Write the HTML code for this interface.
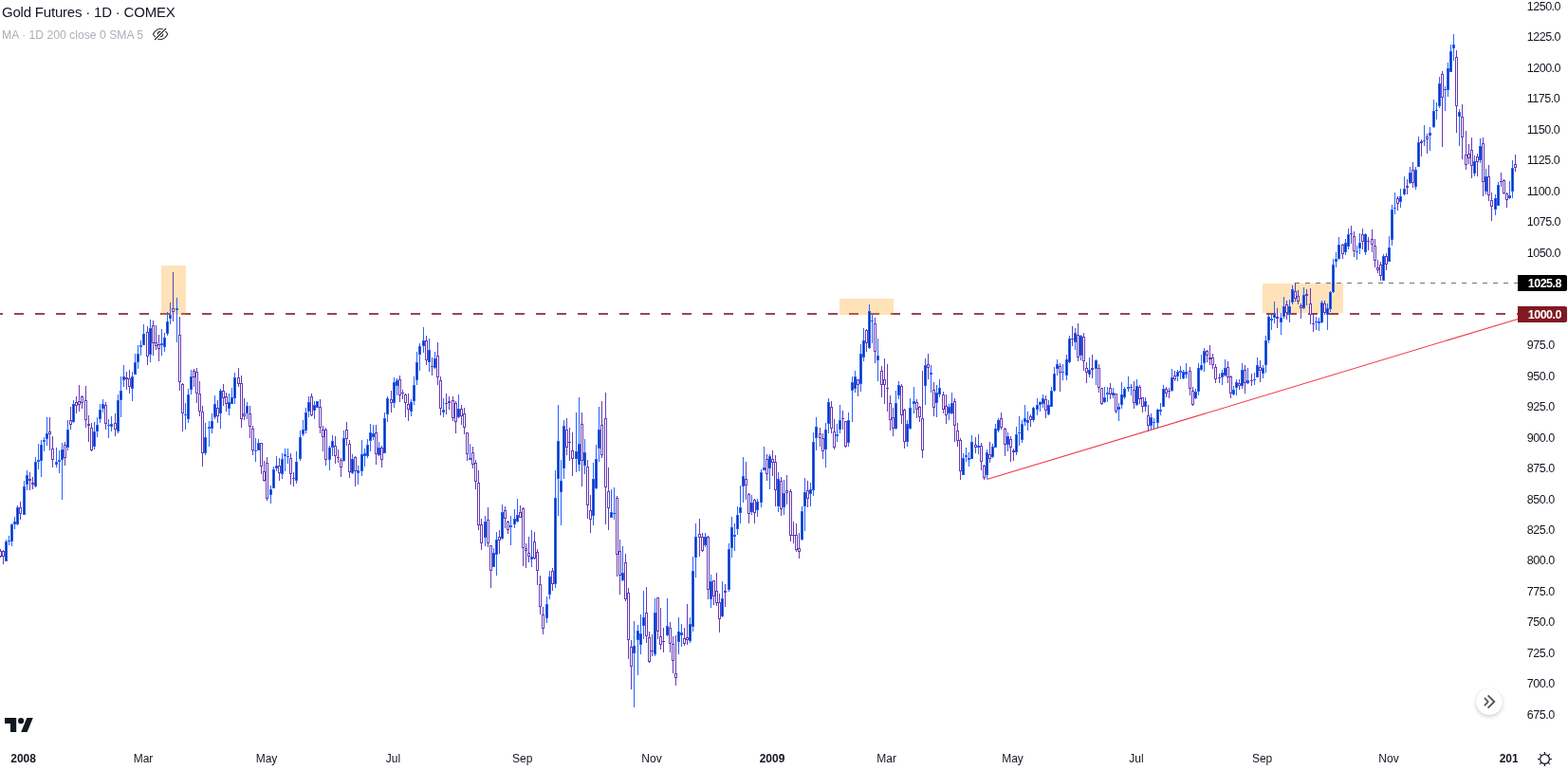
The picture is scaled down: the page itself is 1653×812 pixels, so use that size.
<!DOCTYPE html>
<html lang="en"><head><meta charset="utf-8"><title>Gold Futures · 1D · COMEX</title>
<style>
html,body{margin:0;padding:0;background:#fff;}
body{width:1653px;height:812px;overflow:hidden;position:relative;font-family:"Liberation Sans",sans-serif;color:#131722;}
svg{position:absolute;left:0;top:0;display:block;}
.t{position:absolute;white-space:pre;line-height:1;}
.title{left:2px;top:5px;font-size:15px;letter-spacing:-0.2px;color:#131722;}
.sub{left:2px;top:31px;font-size:12.2px;color:#adb0ba;}
.pl{left:1609.8px;font-size:12.5px;letter-spacing:-0.5px;color:#131722;}
.tl{top:794px;font-size:12px;color:#131722;transform:translateX(-50%);}
.yr{font-weight:700;}
.tag{position:absolute;left:1600px;width:52px;height:17px;border-radius:0 2px 2px 0;color:#fff;font-weight:700;font-size:12.5px;letter-spacing:-0.5px;line-height:18.6px;text-align:right;box-sizing:border-box;padding-right:6px;overflow:hidden;}
.btn{position:absolute;left:1556px;top:726px;width:28px;height:28px;border-radius:50%;background:#fff;box-shadow:0 2px 4px rgba(0,0,0,.18),0 0 1px rgba(0,0,0,.10);}
.clip{position:absolute;left:0;top:780px;width:1600px;height:32px;overflow:hidden;}
</style></head><body>
<svg width="1653" height="812" viewBox="0 0 1653 812">
<g fill="#99474e" shape-rendering="crispEdges">
<path d="M0 330h3v2h-3zM15 330h10v2h-10zM37 330h10v2h-10zM59 330h10v2h-10zM81 330h10v2h-10zM103 330h10v2h-10zM125 330h10v2h-10zM147 330h10v2h-10zM169 330h10v2h-10zM191 330h10v2h-10zM213 330h10v2h-10zM235 330h10v2h-10zM257 330h10v2h-10zM279 330h10v2h-10zM301 330h10v2h-10zM323 330h10v2h-10zM345 330h10v2h-10zM367 330h10v2h-10zM389 330h10v2h-10zM411 330h10v2h-10zM433 330h10v2h-10zM455 330h10v2h-10zM477 330h10v2h-10zM499 330h10v2h-10zM521 330h10v2h-10zM543 330h10v2h-10zM565 330h10v2h-10zM587 330h10v2h-10zM609 330h10v2h-10zM631 330h10v2h-10zM653 330h10v2h-10zM675 330h10v2h-10zM697 330h10v2h-10zM719 330h10v2h-10zM741 330h10v2h-10zM763 330h10v2h-10zM785 330h10v2h-10zM807 330h10v2h-10zM829 330h10v2h-10zM851 330h10v2h-10zM873 330h10v2h-10zM895 330h10v2h-10zM917 330h10v2h-10zM939 330h10v2h-10zM961 330h10v2h-10zM983 330h10v2h-10zM1005 330h10v2h-10zM1027 330h10v2h-10zM1049 330h10v2h-10zM1071 330h10v2h-10zM1093 330h10v2h-10zM1115 330h10v2h-10zM1137 330h10v2h-10zM1159 330h10v2h-10zM1181 330h10v2h-10zM1203 330h10v2h-10zM1225 330h10v2h-10zM1247 330h10v2h-10zM1269 330h10v2h-10zM1291 330h10v2h-10zM1313 330h10v2h-10zM1335 330h10v2h-10zM1357 330h10v2h-10zM1379 330h10v2h-10zM1401 330h10v2h-10zM1423 330h10v2h-10zM1445 330h10v2h-10zM1467 330h10v2h-10zM1489 330h10v2h-10zM1511 330h10v2h-10zM1533 330h10v2h-10zM1555 330h10v2h-10zM1577 330h10v2h-10zM1599 330h1v2h-1z"/></g>
<g fill="rgba(255,152,0,0.28)" shape-rendering="crispEdges">
<rect x="170" y="280" width="26" height="52"/><rect x="885" y="315" width="57" height="17"/><rect x="1331" y="299" width="85" height="31"/></g>
<path fill="#737373" shape-rendering="crispEdges" d="M1365 298h5v1h-5zM1376 298h5v1h-5zM1387 298h5v1h-5zM1398 298h5v1h-5zM1409 298h5v1h-5zM1420 298h5v1h-5zM1431 298h5v1h-5zM1442 298h5v1h-5zM1453 298h5v1h-5zM1464 298h5v1h-5zM1475 298h5v1h-5zM1486 298h5v1h-5zM1497 298h5v1h-5zM1508 298h5v1h-5zM1519 298h5v1h-5zM1530 298h5v1h-5zM1541 298h5v1h-5zM1552 298h5v1h-5zM1563 298h5v1h-5zM1574 298h5v1h-5zM1585 298h5v1h-5zM1596 298h4v1h-4z"/>
<line x1="1040.5" y1="505.55" x2="1600" y2="336.45" stroke="#f23645" stroke-width="1.05"/>
<g shape-rendering="crispEdges">
<path fill="#2962ff" d="M6 569h1v23h-1zM9 565h1v10h-1zM12 552h1v24h-1zM15 545h1v13h-1zM18 533h1v21h-1zM25 507h1v36h-1zM28 496h1v21h-1zM37 482h1v32h-1zM40 468h1v27h-1zM43 464h1v39h-1zM46 461h1v15h-1zM49 440h1v30h-1zM59 472h1v21h-1zM62 475h1v24h-1zM65 467h1v60h-1zM71 443h1v32h-1zM77 422h1v24h-1zM99 445h1v29h-1zM102 440h1v21h-1zM105 426h1v20h-1zM108 421h1v14h-1zM114 442h1v20h-1zM117 439h1v16h-1zM124 416h1v41h-1zM127 397h1v43h-1zM130 385h1v23h-1zM139 392h1v31h-1zM142 373h1v22h-1zM145 364h1v25h-1zM148 359h1v16h-1zM151 342h1v22h-1zM158 337h1v45h-1zM170 347h1v28h-1zM173 351h1v20h-1zM176 329h1v25h-1zM179 319h1v23h-1zM186 314h1v47h-1zM195 425h1v28h-1zM198 410h1v36h-1zM201 390h1v26h-1zM216 446h1v34h-1zM220 444h1v27h-1zM223 436h1v21h-1zM226 417h1v25h-1zM232 410h1v42h-1zM241 415h1v23h-1zM244 409h1v17h-1zM247 393h1v33h-1zM260 424h1v18h-1zM269 462h1v25h-1zM272 463h1v12h-1zM285 512h1v19h-1zM288 492h1v23h-1zM291 481h1v16h-1zM297 478h1v27h-1zM300 473h1v24h-1zM303 473h1v16h-1zM312 476h1v34h-1zM316 454h1v32h-1zM319 443h1v17h-1zM322 430h1v27h-1zM325 418h1v22h-1zM331 423h1v19h-1zM334 423h1v7h-1zM347 470h1v26h-1zM350 459h1v22h-1zM362 454h1v33h-1zM371 479h1v21h-1zM377 491h1v20h-1zM381 464h1v38h-1zM384 473h1v19h-1zM387 463h1v20h-1zM390 447h1v29h-1zM393 448h1v16h-1zM399 466h1v15h-1zM405 435h1v43h-1zM408 418h1v27h-1zM415 398h1v32h-1zM418 399h1v18h-1zM433 421h1v18h-1zM436 397h1v30h-1zM439 371h1v35h-1zM442 362h1v29h-1zM446 345h1v27h-1zM452 357h1v35h-1zM458 371h1v18h-1zM467 420h1v20h-1zM483 416h1v25h-1zM495 468h1v17h-1zM511 544h1v32h-1zM520 578h1v20h-1zM523 561h1v46h-1zM529 532h1v37h-1zM538 544h1v31h-1zM542 537h1v20h-1zM545 526h1v25h-1zM560 559h1v39h-1zM576 629h1v28h-1zM579 602h1v30h-1zM585 496h1v124h-1zM588 427h1v117h-1zM591 485h1v69h-1zM594 443h1v62h-1zM607 435h1v63h-1zM610 419h1v78h-1zM616 463h1v37h-1zM625 488h1v66h-1zM628 469h1v47h-1zM631 429h1v58h-1zM644 516h1v30h-1zM647 514h1v34h-1zM656 576h1v37h-1zM668 655h1v91h-1zM672 659h1v53h-1zM675 648h1v42h-1zM678 623h1v51h-1zM690 631h1v61h-1zM703 631h1v40h-1zM715 651h1v39h-1zM718 658h1v24h-1zM727 651h1v27h-1zM730 587h1v79h-1zM733 552h1v57h-1zM743 562h1v15h-1zM749 606h1v35h-1zM761 613h1v38h-1zM768 573h1v51h-1zM771 545h1v43h-1zM774 552h1v29h-1zM777 534h1v30h-1zM780 512h1v40h-1zM783 482h1v48h-1zM792 522h1v21h-1zM798 526h1v19h-1zM802 495h1v40h-1zM805 471h1v25h-1zM811 479h1v37h-1zM820 498h1v42h-1zM826 506h1v37h-1zM845 534h1v36h-1zM848 504h1v56h-1zM854 509h1v25h-1zM857 456h1v67h-1zM860 440h1v35h-1zM870 446h1v47h-1zM873 420h1v37h-1zM882 447h1v19h-1zM885 427h1v30h-1zM894 435h1v36h-1zM898 397h1v48h-1zM901 391h1v23h-1zM907 363h1v50h-1zM910 346h1v35h-1zM916 321h1v47h-1zM919 332h1v30h-1zM925 357h1v45h-1zM944 412h1v41h-1zM947 402h1v19h-1zM956 443h1v28h-1zM959 420h1v33h-1zM963 408h1v28h-1zM975 378h1v49h-1zM981 385h1v29h-1zM987 406h1v34h-1zM990 400h1v19h-1zM1000 426h1v17h-1zM1003 414h1v23h-1zM1015 478h1v23h-1zM1018 472h1v15h-1zM1021 477h1v15h-1zM1024 459h1v25h-1zM1031 458h1v21h-1zM1040 474h1v31h-1zM1046 468h1v15h-1zM1049 447h1v25h-1zM1052 441h1v15h-1zM1062 456h1v20h-1zM1071 450h1v30h-1zM1074 439h1v31h-1zM1077 443h1v24h-1zM1080 427h1v22h-1zM1083 434h1v20h-1zM1089 429h1v16h-1zM1093 420h1v18h-1zM1096 423h1v11h-1zM1099 416h1v14h-1zM1105 422h1v16h-1zM1108 408h1v21h-1zM1111 387h1v26h-1zM1114 379h1v17h-1zM1120 384h1v17h-1zM1124 374h1v27h-1zM1127 354h1v29h-1zM1133 346h1v23h-1zM1139 353h1v27h-1zM1148 377h1v21h-1zM1155 379h1v27h-1zM1164 408h1v17h-1zM1167 408h1v16h-1zM1173 409h1v11h-1zM1179 425h1v19h-1zM1182 403h1v28h-1zM1185 408h1v13h-1zM1189 397h1v16h-1zM1192 405h1v12h-1zM1198 400h1v28h-1zM1207 419h1v15h-1zM1213 436h1v17h-1zM1216 441h1v11h-1zM1220 431h1v20h-1zM1223 425h1v13h-1zM1226 406h1v23h-1zM1235 389h1v24h-1zM1241 390h1v12h-1zM1244 386h1v14h-1zM1247 390h1v10h-1zM1250 383h1v16h-1zM1260 410h1v11h-1zM1263 383h1v34h-1zM1266 374h1v17h-1zM1269 367h1v25h-1zM1288 390h1v16h-1zM1291 379h1v18h-1zM1300 407h1v10h-1zM1303 400h1v17h-1zM1309 383h1v27h-1zM1315 388h1v17h-1zM1322 393h1v13h-1zM1325 377h1v21h-1zM1331 385h1v14h-1zM1334 354h1v39h-1zM1337 332h1v30h-1zM1340 332h1v16h-1zM1343 318h1v23h-1zM1350 330h1v23h-1zM1353 313h1v23h-1zM1359 316h1v24h-1zM1362 301h1v20h-1zM1374 303h1v23h-1zM1387 334h1v14h-1zM1390 335h1v14h-1zM1393 317h1v24h-1zM1399 320h1v28h-1zM1402 307h1v22h-1zM1405 273h1v36h-1zM1408 266h1v16h-1zM1411 250h1v24h-1zM1418 252h1v17h-1zM1421 241h1v22h-1zM1430 259h1v15h-1zM1433 246h1v22h-1zM1439 246h1v23h-1zM1458 268h1v28h-1zM1464 249h1v27h-1zM1467 216h1v43h-1zM1470 203h1v23h-1zM1476 199h1v20h-1zM1480 186h1v20h-1zM1486 176h1v18h-1zM1492 176h1v24h-1zM1495 144h1v32h-1zM1501 132h1v22h-1zM1507 134h1v25h-1zM1511 105h1v30h-1zM1514 108h1v18h-1zM1517 81h1v33h-1zM1523 91h1v26h-1zM1526 66h1v36h-1zM1529 47h1v29h-1zM1532 36h1v28h-1zM1538 115h1v39h-1zM1554 164h1v22h-1zM1560 146h1v26h-1zM1566 178h1v27h-1zM1576 205h1v22h-1zM1579 192h1v25h-1zM1591 191h1v19h-1zM1594 169h1v40h-1z"/>
<path fill="#673ab7" d="M0 579h1v9h-1zM3 580h1v15h-1zM21 529h1v19h-1zM31 498h1v19h-1zM34 503h1v13h-1zM52 440h1v35h-1zM55 460h1v33h-1zM68 466h1v25h-1zM74 429h1v24h-1zM80 418h1v18h-1zM83 406h1v28h-1zM86 417h1v14h-1zM90 407h1v44h-1zM93 438h1v28h-1zM96 446h1v30h-1zM111 424h1v29h-1zM121 436h1v24h-1zM133 392h1v19h-1zM136 390h1v25h-1zM155 344h1v41h-1zM161 338h1v37h-1zM164 343h1v26h-1zM167 353h1v28h-1zM182 287h1v52h-1zM189 334h1v78h-1zM192 404h1v51h-1zM204 389h1v19h-1zM207 388h1v37h-1zM210 402h1v37h-1zM213 428h1v64h-1zM229 422h1v24h-1zM235 405h1v23h-1zM238 414h1v20h-1zM251 388h1v20h-1zM254 396h1v55h-1zM257 420h1v23h-1zM263 428h1v34h-1zM266 449h1v31h-1zM275 467h1v33h-1zM278 486h1v22h-1zM281 482h1v46h-1zM294 483h1v24h-1zM306 478h1v33h-1zM309 498h1v15h-1zM328 415h1v24h-1zM337 421h1v36h-1zM340 449h1v27h-1zM343 451h1v40h-1zM353 460h1v29h-1zM356 474h1v14h-1zM359 483h1v20h-1zM365 445h1v25h-1zM368 464h1v40h-1zM374 481h1v32h-1zM396 448h1v42h-1zM402 470h1v23h-1zM412 412h1v23h-1zM421 396h1v28h-1zM424 411h1v10h-1zM427 415h1v25h-1zM430 415h1v29h-1zM449 354h1v31h-1zM455 377h1v19h-1zM461 361h1v45h-1zM464 397h1v41h-1zM470 415h1v22h-1zM473 418h1v14h-1zM477 418h1v26h-1zM480 423h1v34h-1zM486 427h1v21h-1zM489 430h1v28h-1zM492 456h1v30h-1zM498 471h1v23h-1zM501 485h1v31h-1zM504 496h1v63h-1zM507 547h1v33h-1zM514 535h1v42h-1zM517 575h1v45h-1zM526 559h1v25h-1zM532 534h1v23h-1zM535 549h1v14h-1zM548 533h1v13h-1zM551 535h1v62h-1zM554 573h1v26h-1zM557 566h1v27h-1zM563 561h1v29h-1zM566 579h1v38h-1zM569 607h1v41h-1zM572 640h1v29h-1zM582 599h1v24h-1zM597 441h1v39h-1zM600 451h1v35h-1zM603 456h1v46h-1zM613 435h1v78h-1zM619 485h1v62h-1zM622 522h1v40h-1zM634 423h1v60h-1zM638 414h1v139h-1zM641 493h1v66h-1zM650 523h1v85h-1zM653 569h1v58h-1zM659 584h1v50h-1zM662 620h1v75h-1zM665 675h1v52h-1zM681 619h1v59h-1zM684 666h1v33h-1zM687 669h1v23h-1zM693 630h1v44h-1zM696 641h1v44h-1zM699 662h1v26h-1zM706 656h1v32h-1zM709 671h1v39h-1zM712 670h1v53h-1zM721 662h1v19h-1zM724 637h1v43h-1zM737 547h1v40h-1zM740 562h1v20h-1zM746 565h1v67h-1zM752 612h1v26h-1zM755 604h1v35h-1zM758 626h1v41h-1zM764 616h1v24h-1zM786 487h1v40h-1zM789 520h1v32h-1zM795 526h1v26h-1zM808 479h1v28h-1zM814 475h1v27h-1zM817 480h1v54h-1zM823 503h1v41h-1zM829 501h1v31h-1zM833 516h1v55h-1zM836 550h1v23h-1zM839 552h1v30h-1zM842 562h1v27h-1zM851 507h1v28h-1zM864 451h1v20h-1zM867 457h1v27h-1zM876 423h1v34h-1zM879 442h1v32h-1zM888 433h1v20h-1zM891 444h1v28h-1zM904 400h1v18h-1zM913 347h1v24h-1zM922 335h1v48h-1zM929 386h1v33h-1zM932 378h1v48h-1zM935 384h1v50h-1zM938 417h1v37h-1zM941 430h1v30h-1zM950 405h1v42h-1zM953 431h1v42h-1zM966 421h1v20h-1zM969 428h1v17h-1zM972 391h1v92h-1zM978 373h1v27h-1zM984 403h1v36h-1zM994 413h1v23h-1zM997 416h1v31h-1zM1006 420h1v46h-1zM1009 446h1v25h-1zM1012 462h1v44h-1zM1028 461h1v17h-1zM1034 467h1v29h-1zM1037 490h1v16h-1zM1043 466h1v22h-1zM1055 435h1v18h-1zM1059 451h1v30h-1zM1065 460h1v27h-1zM1068 473h1v13h-1zM1086 437h1v13h-1zM1102 417h1v24h-1zM1117 383h1v30h-1zM1130 344h1v21h-1zM1136 341h1v40h-1zM1142 351h1v40h-1zM1145 382h1v22h-1zM1151 374h1v25h-1zM1158 384h1v30h-1zM1161 409h1v18h-1zM1170 404h1v17h-1zM1176 415h1v21h-1zM1195 402h1v29h-1zM1201 406h1v20h-1zM1204 419h1v16h-1zM1210 427h1v28h-1zM1229 408h1v11h-1zM1232 409h1v11h-1zM1238 391h1v11h-1zM1254 387h1v30h-1zM1257 408h1v20h-1zM1272 369h1v13h-1zM1275 364h1v21h-1zM1278 373h1v16h-1zM1281 384h1v20h-1zM1285 394h1v10h-1zM1294 381h1v23h-1zM1297 396h1v24h-1zM1306 400h1v11h-1zM1312 385h1v30h-1zM1319 394h1v13h-1zM1328 380h1v23h-1zM1346 325h1v21h-1zM1356 317h1v20h-1zM1365 298h1v20h-1zM1368 306h1v15h-1zM1371 320h1v16h-1zM1377 305h1v17h-1zM1381 304h1v38h-1zM1384 330h1v20h-1zM1396 317h1v15h-1zM1415 257h1v16h-1zM1424 238h1v19h-1zM1427 244h1v27h-1zM1436 241h1v22h-1zM1442 250h1v14h-1zM1446 242h1v24h-1zM1449 252h1v30h-1zM1452 274h1v14h-1zM1455 276h1v20h-1zM1461 267h1v18h-1zM1473 207h1v15h-1zM1483 189h1v16h-1zM1489 171h1v27h-1zM1498 147h1v18h-1zM1504 141h1v21h-1zM1520 75h1v80h-1zM1535 53h1v87h-1zM1541 110h1v58h-1zM1545 138h1v41h-1zM1548 152h1v21h-1zM1551 145h1v43h-1zM1557 162h1v24h-1zM1563 145h1v62h-1zM1569 174h1v38h-1zM1572 203h1v30h-1zM1582 182h1v15h-1zM1585 189h1v16h-1zM1588 203h1v16h-1zM1597 163h1v18h-1z"/>
<path fill="#2962ff" d="M5 571h3v21h-3zM8 570h3v1h-3zM11 553h3v18h-3zM14 550h3v3h-3zM17 535h3v18h-3zM24 513h3v30h-3zM27 501h3v10h-3zM36 487h3v26h-3zM39 485h3v2h-3zM42 469h3v17h-3zM45 464h3v2h-3zM48 457h3v6h-3zM58 487h3v3h-3zM61 485h3v2h-3zM64 474h3v11h-3zM70 453h3v19h-3zM76 426h3v19h-3zM98 455h3v16h-3zM101 448h3v7h-3zM104 432h3v10h-3zM107 426h3v5h-3zM113 448h3v1h-3zM116 447h3v3h-3zM123 422h3v33h-3zM126 412h3v10h-3zM129 397h3v4h-3zM138 397h3v13h-3zM141 382h3v13h-3zM144 373h3v9h-3zM147 364h3v2h-3zM150 352h3v12h-3zM157 346h3v28h-3zM169 362h3v2h-3zM172 356h3v10h-3zM175 339h3v13h-3zM178 332h3v4h-3zM185 325h3v2h-3zM194 437h3v1h-3zM197 416h3v26h-3zM200 397h3v14h-3zM215 461h3v17h-3zM219 450h3v2h-3zM222 444h3v8h-3zM225 426h3v14h-3zM231 412h3v24h-3zM240 424h3v7h-3zM243 419h3v7h-3zM246 398h3v22h-3zM259 428h3v8h-3zM268 475h3v1h-3zM271 467h3v8h-3zM284 516h3v6h-3zM287 495h3v20h-3zM290 491h3v3h-3zM296 484h3v16h-3zM299 479h3v2h-3zM302 481h3v1h-3zM311 487h3v20h-3zM315 461h3v23h-3zM318 453h3v5h-3zM321 435h3v19h-3zM324 424h3v10h-3zM330 427h3v6h-3zM333 423h3v7h-3zM346 472h3v13h-3zM349 465h3v7h-3zM361 462h3v24h-3zM370 484h3v15h-3zM376 496h3v3h-3zM380 479h3v18h-3zM383 478h3v3h-3zM386 469h3v12h-3zM389 456h3v9h-3zM392 457h3v4h-3zM398 472h3v8h-3zM404 441h3v37h-3zM407 420h3v17h-3zM414 403h3v22h-3zM417 401h3v6h-3zM432 424h3v10h-3zM435 406h3v17h-3zM438 382h3v19h-3zM441 365h3v9h-3zM445 359h3v6h-3zM451 369h3v13h-3zM457 378h3v10h-3zM466 432h3v3h-3zM482 431h3v9h-3zM494 483h3v2h-3zM510 550h3v17h-3zM519 583h3v15h-3zM522 569h3v16h-3zM528 540h3v28h-3zM537 554h3v2h-3zM541 547h3v6h-3zM544 543h3v7h-3zM559 587h3v3h-3zM575 637h3v15h-3zM578 608h3v19h-3zM584 525h3v91h-3zM587 465h3v40h-3zM590 507h3v12h-3zM593 449h3v45h-3zM606 476h3v8h-3zM609 468h3v22h-3zM615 477h3v14h-3zM624 505h3v39h-3zM627 484h3v31h-3zM630 453h3v20h-3zM643 540h3v6h-3zM646 541h3v1h-3zM655 604h3v8h-3zM667 681h3v8h-3zM671 665h3v10h-3zM674 668h3v12h-3zM677 651h3v9h-3zM689 646h3v44h-3zM702 660h3v10h-3zM714 666h3v11h-3zM717 667h3v3h-3zM726 658h3v18h-3zM729 602h3v59h-3zM732 566h3v22h-3zM742 566h3v9h-3zM748 613h3v19h-3zM760 631h3v19h-3zM767 579h3v43h-3zM770 556h3v22h-3zM773 564h3v2h-3zM776 543h3v15h-3zM779 535h3v6h-3zM782 502h3v11h-3zM791 530h3v10h-3zM797 529h3v9h-3zM801 498h3v32h-3zM804 493h3v3h-3zM810 481h3v13h-3zM819 505h3v29h-3zM825 520h3v15h-3zM844 539h3v30h-3zM847 519h3v15h-3zM853 516h3v5h-3zM856 466h3v51h-3zM859 450h3v12h-3zM869 453h3v21h-3zM872 424h3v23h-3zM881 458h3v2h-3zM884 443h3v10h-3zM893 443h3v24h-3zM897 403h3v9h-3zM900 397h3v13h-3zM906 373h3v32h-3zM909 359h3v18h-3zM915 328h3v39h-3zM918 338h3v1h-3zM924 375h3v5h-3zM943 425h3v27h-3zM946 406h3v11h-3zM955 447h3v19h-3zM958 430h3v22h-3zM962 423h3v3h-3zM974 385h3v22h-3zM980 393h3v2h-3zM986 414h3v11h-3zM989 409h3v7h-3zM999 429h3v7h-3zM1002 425h3v11h-3zM1014 483h3v18h-3zM1017 480h3v2h-3zM1020 483h3v2h-3zM1023 466h3v18h-3zM1030 470h3v2h-3zM1039 477h3v24h-3zM1045 471h3v11h-3zM1048 452h3v20h-3zM1051 443h3v11h-3zM1061 460h3v9h-3zM1070 458h3v19h-3zM1073 456h3v1h-3zM1076 447h3v17h-3zM1079 441h3v4h-3zM1082 443h3v3h-3zM1088 430h3v13h-3zM1092 427h3v5h-3zM1095 424h3v3h-3zM1098 420h3v6h-3zM1104 427h3v10h-3zM1107 412h3v17h-3zM1110 394h3v18h-3zM1113 384h3v5h-3zM1119 392h3v1h-3zM1123 379h3v17h-3zM1126 357h3v25h-3zM1132 351h3v10h-3zM1138 354h3v21h-3zM1147 390h3v5h-3zM1154 380h3v9h-3zM1163 419h3v5h-3zM1166 414h3v2h-3zM1172 414h3v3h-3zM1178 429h3v3h-3zM1181 416h3v11h-3zM1184 410h3v9h-3zM1188 408h3v2h-3zM1191 408h3v1h-3zM1197 407h3v20h-3zM1206 423h3v6h-3zM1212 440h3v9h-3zM1215 445h3v1h-3zM1219 432h3v14h-3zM1222 432h3v2h-3zM1225 410h3v19h-3zM1234 398h3v14h-3zM1240 392h3v5h-3zM1243 391h3v2h-3zM1246 392h3v7h-3zM1249 392h3v3h-3zM1259 413h3v7h-3zM1262 388h3v25h-3zM1265 385h3v5h-3zM1268 370h3v13h-3zM1287 393h3v5h-3zM1290 388h3v8h-3zM1299 411h3v5h-3zM1302 403h3v6h-3zM1308 390h3v17h-3zM1314 401h3v3h-3zM1321 400h3v1h-3zM1324 385h3v13h-3zM1330 388h3v6h-3zM1333 359h3v26h-3zM1336 334h3v25h-3zM1339 336h3v2h-3zM1342 331h3v4h-3zM1349 335h3v5h-3zM1352 323h3v11h-3zM1358 323h3v8h-3zM1361 305h3v14h-3zM1373 311h3v14h-3zM1386 339h3v1h-3zM1389 339h3v2h-3zM1392 319h3v21h-3zM1398 325h3v7h-3zM1401 308h3v18h-3zM1404 279h3v29h-3zM1407 273h3v3h-3zM1410 258h3v15h-3zM1417 256h3v10h-3zM1420 247h3v13h-3zM1429 265h3v1h-3zM1432 256h3v6h-3zM1438 247h3v19h-3zM1457 270h3v26h-3zM1463 261h3v15h-3zM1466 221h3v32h-3zM1469 219h3v1h-3zM1475 207h3v6h-3zM1479 199h3v6h-3zM1485 182h3v11h-3zM1491 179h3v18h-3zM1494 150h3v26h-3zM1500 148h3v1h-3zM1506 140h3v3h-3zM1510 117h3v17h-3zM1513 116h3v1h-3zM1516 88h3v24h-3zM1522 94h3v1h-3zM1525 72h3v23h-3zM1528 54h3v22h-3zM1531 47h3v4h-3zM1537 118h3v5h-3zM1553 170h3v13h-3zM1559 154h3v15h-3zM1565 186h3v16h-3zM1575 209h3v12h-3zM1578 195h3v22h-3zM1590 206h3v3h-3zM1593 177h3v25h-3z"/>
<path fill="#673ab7" d="M-1 581h3v6h-3zM2 581h3v6h-3zM20 535h3v7h-3zM30 505h3v2h-3zM33 509h3v2h-3zM51 455h3v3h-3zM54 473h3v12h-3zM67 469h3v14h-3zM73 443h3v5h-3zM79 424h3v4h-3zM82 423h3v4h-3zM85 418h3v7h-3zM89 422h3v21h-3zM92 447h3v2h-3zM95 451h3v24h-3zM110 427h3v20h-3zM120 446h3v7h-3zM132 398h3v2h-3zM135 399h3v9h-3zM154 350h3v26h-3zM160 343h3v19h-3zM163 361h3v4h-3zM166 363h3v5h-3zM181 325h3v4h-3zM188 353h3v50h-3zM191 405h3v31h-3zM203 391h3v7h-3zM206 392h3v23h-3zM209 415h3v19h-3zM212 434h3v44h-3zM228 430h3v9h-3zM234 412h3v8h-3zM237 418h3v8h-3zM250 398h3v7h-3zM253 404h3v38h-3zM256 436h3v3h-3zM262 436h3v14h-3zM265 452h3v23h-3zM274 467h3v25h-3zM277 497h3v10h-3zM280 488h3v38h-3zM293 491h3v8h-3zM305 483h3v17h-3zM308 504h3v1h-3zM327 418h3v20h-3zM336 429h3v22h-3zM339 453h3v8h-3zM342 453h3v32h-3zM352 470h3v11h-3zM355 482h3v1h-3zM358 485h3v8h-3zM364 453h3v10h-3zM367 468h3v30h-3zM373 482h3v15h-3zM395 456h3v23h-3zM401 472h3v13h-3zM411 421h3v4h-3zM420 400h3v17h-3zM423 414h3v1h-3zM426 416h3v9h-3zM429 426h3v6h-3zM448 359h3v21h-3zM454 386h3v1h-3zM460 375h3v23h-3zM463 401h3v30h-3zM469 425h3v1h-3zM472 423h3v2h-3zM476 422h3v19h-3zM479 425h3v20h-3zM485 431h3v8h-3zM488 436h3v15h-3zM491 456h3v23h-3zM497 477h3v13h-3zM500 488h3v20h-3zM503 509h3v45h-3zM506 553h3v20h-3zM513 548h3v25h-3zM516 575h3v27h-3zM525 566h3v4h-3zM531 538h3v9h-3zM534 550h3v9h-3zM547 540h3v6h-3zM550 536h3v42h-3zM553 578h3v3h-3zM556 583h3v4h-3zM562 571h3v18h-3zM565 582h3v20h-3zM568 616h3v24h-3zM571 648h3v15h-3zM581 602h3v14h-3zM596 453h3v19h-3zM599 466h3v1h-3zM602 475h3v9h-3zM612 447h3v39h-3zM618 492h3v41h-3zM621 538h3v10h-3zM633 448h3v32h-3zM637 441h3v73h-3zM640 518h3v18h-3zM649 525h3v60h-3zM652 581h3v26h-3zM658 593h3v39h-3zM661 625h3v50h-3zM664 682h3v21h-3zM680 646h3v25h-3zM683 672h3v26h-3zM686 686h3v1h-3zM692 630h3v36h-3zM695 671h3v9h-3zM698 676h3v1h-3zM705 662h3v17h-3zM708 679h3v18h-3zM711 710h3v5h-3zM720 673h3v6h-3zM723 672h3v3h-3zM736 563h3v4h-3zM739 566h3v15h-3zM745 566h3v56h-3zM751 612h3v17h-3zM754 623h3v13h-3zM757 635h3v18h-3zM763 623h3v2h-3zM785 505h3v7h-3zM788 521h3v21h-3zM794 527h3v14h-3zM807 484h3v16h-3zM813 484h3v4h-3zM816 487h3v30h-3zM822 507h3v30h-3zM828 517h3v3h-3zM832 518h3v47h-3zM835 564h3v1h-3zM838 564h3v16h-3zM841 578h3v4h-3zM850 517h3v9h-3zM863 457h3v5h-3zM866 462h3v14h-3zM875 429h3v23h-3zM878 455h3v17h-3zM887 441h3v1h-3zM890 444h3v27h-3zM903 400h3v6h-3zM912 348h3v14h-3zM921 341h3v30h-3zM928 391h3v15h-3zM931 400h3v6h-3zM934 409h3v1h-3zM937 425h3v18h-3zM940 440h3v12h-3zM949 407h3v31h-3zM952 432h3v34h-3zM965 424h3v8h-3zM968 429h3v11h-3zM971 441h3v34h-3zM977 384h3v4h-3zM983 411h3v19h-3zM993 416h3v16h-3zM996 428h3v10h-3zM1005 423h3v26h-3zM1008 454h3v11h-3zM1011 464h3v33h-3zM1027 469h3v3h-3zM1033 470h3v17h-3zM1036 491h3v13h-3zM1042 479h3v5h-3zM1054 441h3v10h-3zM1058 452h3v17h-3zM1064 463h3v9h-3zM1067 475h3v2h-3zM1085 439h3v4h-3zM1101 421h3v12h-3zM1116 386h3v7h-3zM1129 357h3v1h-3zM1135 353h3v24h-3zM1141 355h3v26h-3zM1144 388h3v5h-3zM1150 388h3v2h-3zM1157 388h3v21h-3zM1160 409h3v17h-3zM1169 409h3v7h-3zM1175 415h3v19h-3zM1194 411h3v14h-3zM1200 408h3v13h-3zM1203 419h3v10h-3zM1209 438h3v11h-3zM1228 410h3v5h-3zM1231 412h3v1h-3zM1237 396h3v4h-3zM1253 391h3v19h-3zM1256 412h3v15h-3zM1271 370h3v5h-3zM1274 377h3v2h-3zM1277 377h3v8h-3zM1280 387h3v13h-3zM1284 398h3v1h-3zM1293 387h3v11h-3zM1296 397h3v18h-3zM1305 404h3v3h-3zM1311 390h3v14h-3zM1318 401h3v1h-3zM1327 387h3v4h-3zM1345 334h3v2h-3zM1355 321h3v9h-3zM1364 307h3v8h-3zM1367 312h3v6h-3zM1370 322h3v3h-3zM1376 310h3v2h-3zM1380 320h3v12h-3zM1383 341h3v1h-3zM1395 320h3v10h-3zM1414 258h3v10h-3zM1423 246h3v1h-3zM1426 249h3v16h-3zM1435 247h3v8h-3zM1441 254h3v1h-3zM1445 252h3v6h-3zM1448 259h3v16h-3zM1451 282h3v3h-3zM1454 279h3v12h-3zM1460 270h3v9h-3zM1472 209h3v6h-3zM1482 196h3v2h-3zM1488 179h3v14h-3zM1497 149h3v2h-3zM1503 144h3v3h-3zM1519 78h3v25h-3zM1534 60h3v52h-3zM1540 123h3v22h-3zM1544 163h3v11h-3zM1547 162h3v5h-3zM1550 158h3v17h-3zM1556 165h3v6h-3zM1562 151h3v41h-3zM1568 186h3v20h-3zM1571 211h3v7h-3zM1581 191h3v1h-3zM1584 190h3v14h-3zM1587 204h3v7h-3zM1596 173h3v4h-3z"/>
<path fill="#0c3299" d="M6 572h1v19h-1zM12 554h1v16h-1zM15 551h1v1h-1zM18 536h1v16h-1zM25 514h1v28h-1zM28 502h1v8h-1zM37 488h1v24h-1zM43 470h1v15h-1zM49 458h1v4h-1zM59 488h1v1h-1zM65 475h1v9h-1zM71 454h1v17h-1zM77 427h1v17h-1zM99 456h1v14h-1zM102 449h1v5h-1zM105 433h1v8h-1zM108 427h1v3h-1zM117 448h1v1h-1zM124 423h1v31h-1zM127 413h1v8h-1zM130 398h1v2h-1zM139 398h1v11h-1zM142 383h1v11h-1zM145 374h1v7h-1zM151 353h1v10h-1zM158 347h1v26h-1zM173 357h1v8h-1zM176 340h1v11h-1zM179 333h1v2h-1zM198 417h1v24h-1zM201 398h1v12h-1zM216 462h1v15h-1zM223 445h1v6h-1zM226 427h1v12h-1zM232 413h1v22h-1zM241 425h1v5h-1zM244 420h1v5h-1zM247 399h1v20h-1zM260 429h1v6h-1zM272 468h1v6h-1zM285 517h1v4h-1zM288 496h1v18h-1zM291 492h1v1h-1zM297 485h1v14h-1zM312 488h1v18h-1zM316 462h1v21h-1zM319 454h1v3h-1zM322 436h1v17h-1zM325 425h1v8h-1zM331 428h1v4h-1zM334 424h1v5h-1zM347 473h1v11h-1zM350 466h1v5h-1zM362 463h1v22h-1zM371 485h1v13h-1zM377 497h1v1h-1zM381 480h1v16h-1zM384 479h1v1h-1zM387 470h1v10h-1zM390 457h1v7h-1zM393 458h1v2h-1zM399 473h1v6h-1zM405 442h1v35h-1zM408 421h1v15h-1zM415 404h1v20h-1zM418 402h1v4h-1zM433 425h1v8h-1zM436 407h1v15h-1zM439 383h1v17h-1zM442 366h1v7h-1zM446 360h1v4h-1zM452 370h1v11h-1zM458 379h1v8h-1zM467 433h1v1h-1zM483 432h1v7h-1zM511 551h1v15h-1zM520 584h1v13h-1zM523 570h1v14h-1zM529 541h1v26h-1zM542 548h1v4h-1zM545 544h1v5h-1zM560 588h1v1h-1zM576 638h1v13h-1zM579 609h1v17h-1zM585 526h1v89h-1zM588 466h1v38h-1zM591 508h1v10h-1zM594 450h1v43h-1zM607 477h1v6h-1zM610 469h1v20h-1zM616 478h1v12h-1zM625 506h1v37h-1zM628 485h1v29h-1zM631 454h1v18h-1zM644 541h1v4h-1zM656 605h1v6h-1zM668 682h1v6h-1zM672 666h1v8h-1zM675 669h1v10h-1zM678 652h1v7h-1zM690 647h1v42h-1zM703 661h1v8h-1zM715 667h1v9h-1zM718 668h1v1h-1zM727 659h1v16h-1zM730 603h1v57h-1zM733 567h1v20h-1zM743 567h1v7h-1zM749 614h1v17h-1zM761 632h1v17h-1zM768 580h1v41h-1zM771 557h1v20h-1zM777 544h1v13h-1zM780 536h1v4h-1zM783 503h1v9h-1zM792 531h1v8h-1zM798 530h1v7h-1zM802 499h1v30h-1zM805 494h1v1h-1zM811 482h1v11h-1zM820 506h1v27h-1zM826 521h1v13h-1zM845 540h1v28h-1zM848 520h1v13h-1zM854 517h1v3h-1zM857 467h1v49h-1zM860 451h1v10h-1zM870 454h1v19h-1zM873 425h1v21h-1zM885 444h1v8h-1zM894 444h1v22h-1zM898 404h1v7h-1zM901 398h1v11h-1zM907 374h1v30h-1zM910 360h1v16h-1zM916 329h1v37h-1zM925 376h1v3h-1zM944 426h1v25h-1zM947 407h1v9h-1zM956 448h1v17h-1zM959 431h1v20h-1zM963 424h1v1h-1zM975 386h1v20h-1zM987 415h1v9h-1zM990 410h1v5h-1zM1000 430h1v5h-1zM1003 426h1v9h-1zM1015 484h1v16h-1zM1024 467h1v16h-1zM1040 478h1v22h-1zM1046 472h1v9h-1zM1049 453h1v18h-1zM1052 444h1v9h-1zM1062 461h1v7h-1zM1071 459h1v17h-1zM1077 448h1v15h-1zM1080 442h1v2h-1zM1083 444h1v1h-1zM1089 431h1v11h-1zM1093 428h1v3h-1zM1096 425h1v1h-1zM1099 421h1v4h-1zM1105 428h1v8h-1zM1108 413h1v15h-1zM1111 395h1v16h-1zM1114 385h1v3h-1zM1124 380h1v15h-1zM1127 358h1v23h-1zM1133 352h1v8h-1zM1139 355h1v19h-1zM1148 391h1v3h-1zM1155 381h1v7h-1zM1164 420h1v3h-1zM1173 415h1v1h-1zM1179 430h1v1h-1zM1182 417h1v9h-1zM1185 411h1v7h-1zM1198 408h1v18h-1zM1207 424h1v4h-1zM1213 441h1v7h-1zM1220 433h1v12h-1zM1226 411h1v17h-1zM1235 399h1v12h-1zM1241 393h1v3h-1zM1247 393h1v5h-1zM1250 393h1v1h-1zM1260 414h1v5h-1zM1263 389h1v23h-1zM1266 386h1v3h-1zM1269 371h1v11h-1zM1288 394h1v3h-1zM1291 389h1v6h-1zM1300 412h1v3h-1zM1303 404h1v4h-1zM1309 391h1v15h-1zM1315 402h1v1h-1zM1325 386h1v11h-1zM1331 389h1v4h-1zM1334 360h1v24h-1zM1337 335h1v23h-1zM1343 332h1v2h-1zM1350 336h1v3h-1zM1353 324h1v9h-1zM1359 324h1v6h-1zM1362 306h1v12h-1zM1374 312h1v12h-1zM1393 320h1v19h-1zM1399 326h1v5h-1zM1402 309h1v16h-1zM1405 280h1v27h-1zM1408 274h1v1h-1zM1411 259h1v13h-1zM1418 257h1v8h-1zM1421 248h1v11h-1zM1433 257h1v4h-1zM1439 248h1v17h-1zM1458 271h1v24h-1zM1464 262h1v13h-1zM1467 222h1v30h-1zM1476 208h1v4h-1zM1480 200h1v4h-1zM1486 183h1v9h-1zM1492 180h1v16h-1zM1495 151h1v24h-1zM1507 141h1v1h-1zM1511 118h1v15h-1zM1517 89h1v22h-1zM1526 73h1v21h-1zM1529 55h1v20h-1zM1532 48h1v2h-1zM1538 119h1v3h-1zM1554 171h1v11h-1zM1560 155h1v13h-1zM1566 187h1v14h-1zM1576 210h1v10h-1zM1579 196h1v20h-1zM1591 207h1v1h-1zM1594 178h1v23h-1z"/>
<path fill="#ffffff" d="M0 582h1v4h-1zM3 582h1v4h-1zM21 536h1v5h-1zM52 456h1v1h-1zM55 474h1v10h-1zM68 470h1v12h-1zM74 444h1v3h-1zM80 425h1v2h-1zM83 424h1v2h-1zM86 419h1v5h-1zM90 423h1v19h-1zM96 452h1v22h-1zM111 428h1v18h-1zM121 447h1v5h-1zM136 400h1v7h-1zM155 351h1v24h-1zM161 344h1v17h-1zM164 362h1v2h-1zM167 364h1v3h-1zM182 326h1v2h-1zM189 354h1v48h-1zM192 406h1v29h-1zM204 392h1v5h-1zM207 393h1v21h-1zM210 416h1v17h-1zM213 435h1v42h-1zM229 431h1v7h-1zM235 413h1v6h-1zM238 419h1v6h-1zM251 399h1v5h-1zM254 405h1v36h-1zM257 437h1v1h-1zM263 437h1v12h-1zM266 453h1v21h-1zM275 468h1v23h-1zM278 498h1v8h-1zM281 489h1v36h-1zM294 492h1v6h-1zM306 484h1v15h-1zM328 419h1v18h-1zM337 430h1v20h-1zM340 454h1v6h-1zM343 454h1v30h-1zM353 471h1v9h-1zM359 486h1v6h-1zM365 454h1v8h-1zM368 469h1v28h-1zM374 483h1v13h-1zM396 457h1v21h-1zM402 473h1v11h-1zM412 422h1v2h-1zM421 401h1v15h-1zM427 417h1v7h-1zM430 427h1v4h-1zM449 360h1v19h-1zM461 376h1v21h-1zM464 402h1v28h-1zM477 423h1v17h-1zM480 426h1v18h-1zM486 432h1v6h-1zM489 437h1v13h-1zM492 457h1v21h-1zM498 478h1v11h-1zM501 489h1v18h-1zM504 510h1v43h-1zM507 554h1v18h-1zM514 549h1v23h-1zM517 576h1v25h-1zM526 567h1v2h-1zM532 539h1v7h-1zM535 551h1v7h-1zM548 541h1v4h-1zM551 537h1v40h-1zM554 579h1v1h-1zM557 584h1v2h-1zM563 572h1v16h-1zM566 583h1v18h-1zM569 617h1v22h-1zM572 649h1v13h-1zM582 603h1v12h-1zM597 454h1v17h-1zM603 476h1v7h-1zM613 448h1v37h-1zM619 493h1v39h-1zM622 539h1v8h-1zM634 449h1v30h-1zM638 442h1v71h-1zM641 519h1v16h-1zM650 526h1v58h-1zM653 582h1v24h-1zM659 594h1v37h-1zM662 626h1v48h-1zM665 683h1v19h-1zM681 647h1v23h-1zM684 673h1v24h-1zM693 631h1v34h-1zM696 672h1v7h-1zM706 663h1v15h-1zM709 680h1v16h-1zM712 711h1v3h-1zM721 674h1v4h-1zM724 673h1v1h-1zM737 564h1v2h-1zM740 567h1v13h-1zM746 567h1v54h-1zM752 613h1v15h-1zM755 624h1v11h-1zM758 636h1v16h-1zM786 506h1v5h-1zM789 522h1v19h-1zM795 528h1v12h-1zM808 485h1v14h-1zM814 485h1v2h-1zM817 488h1v28h-1zM823 508h1v28h-1zM829 518h1v1h-1zM833 519h1v45h-1zM839 565h1v14h-1zM842 579h1v2h-1zM851 518h1v7h-1zM864 458h1v3h-1zM867 463h1v12h-1zM876 430h1v21h-1zM879 456h1v15h-1zM891 445h1v25h-1zM904 401h1v4h-1zM913 349h1v12h-1zM922 342h1v28h-1zM929 392h1v13h-1zM932 401h1v4h-1zM938 426h1v16h-1zM941 441h1v10h-1zM950 408h1v29h-1zM953 433h1v32h-1zM966 425h1v6h-1zM969 430h1v9h-1zM972 442h1v32h-1zM978 385h1v2h-1zM984 412h1v17h-1zM994 417h1v14h-1zM997 429h1v8h-1zM1006 424h1v24h-1zM1009 455h1v9h-1zM1012 465h1v31h-1zM1028 470h1v1h-1zM1034 471h1v15h-1zM1037 492h1v11h-1zM1043 480h1v3h-1zM1055 442h1v8h-1zM1059 453h1v15h-1zM1065 464h1v7h-1zM1086 440h1v2h-1zM1102 422h1v10h-1zM1117 387h1v5h-1zM1136 354h1v22h-1zM1142 356h1v24h-1zM1145 389h1v3h-1zM1158 389h1v19h-1zM1161 410h1v15h-1zM1170 410h1v5h-1zM1176 416h1v17h-1zM1195 412h1v12h-1zM1201 409h1v11h-1zM1204 420h1v8h-1zM1210 439h1v9h-1zM1229 411h1v3h-1zM1238 397h1v2h-1zM1254 392h1v17h-1zM1257 413h1v13h-1zM1272 371h1v3h-1zM1278 378h1v6h-1zM1281 388h1v11h-1zM1294 388h1v9h-1zM1297 398h1v16h-1zM1306 405h1v1h-1zM1312 391h1v12h-1zM1328 388h1v2h-1zM1356 322h1v7h-1zM1365 308h1v6h-1zM1368 313h1v4h-1zM1371 323h1v1h-1zM1381 321h1v10h-1zM1396 321h1v8h-1zM1415 259h1v8h-1zM1427 250h1v14h-1zM1436 248h1v6h-1zM1446 253h1v4h-1zM1449 260h1v14h-1zM1452 283h1v1h-1zM1455 280h1v10h-1zM1461 271h1v7h-1zM1473 210h1v4h-1zM1489 180h1v12h-1zM1504 145h1v1h-1zM1520 79h1v23h-1zM1535 61h1v50h-1zM1541 124h1v20h-1zM1545 164h1v9h-1zM1548 163h1v3h-1zM1551 159h1v15h-1zM1557 166h1v4h-1zM1563 152h1v39h-1zM1569 187h1v18h-1zM1572 212h1v5h-1zM1585 191h1v12h-1zM1588 205h1v5h-1zM1597 174h1v2h-1z"/>
</g>
<g fill="none" stroke="#2a2e39" stroke-width="1.15" stroke-linecap="round" stroke-linejoin="round">
<path d="M161.4 36 C163.6 32.2 166.4 30.5 169.1 30.5 C171.8 30.5 174.6 32.2 176.8 36 C174.6 39.8 171.8 41.5 169.1 41.5 C166.4 41.5 163.6 39.8 161.4 36Z"/>
<circle cx="169" cy="36" r="2.7"/>
<path d="M163.4 41.6 L174.7 30.3" stroke="#fff" stroke-width="3.1" stroke-linecap="butt"/>
<path d="M163.4 41.6 L174.7 30.3" stroke="#131722" stroke-width="1.2"/></g>
<g fill="#131722"><path d="M5 757H17.2V772H11V763H5Z"/><circle cx="22.1" cy="760.2" r="3.1"/><path d="M28.3 757H34.8L28.6 772H22.2Z"/></g>
<g fill="none" stroke="#131722" stroke-width="1.2" stroke-linecap="butt"><circle cx="1628.5" cy="800.5" r="4.9"/>
<path d="M1633.90 800.50L1636.00 800.50M1632.32 804.32L1633.80 805.80M1628.50 805.90L1628.50 808.00M1624.68 804.32L1623.20 805.80M1623.10 800.50L1621.00 800.50M1624.68 796.68L1623.20 795.20M1628.50 795.10L1628.50 793.00M1632.32 796.68L1633.80 795.20"/></g>
</svg>
<div class="t title">Gold Futures · 1D · COMEX</div>
<div class="t sub">MA · 1D 200 close 0 SMA 5</div>
<div class="t pl" style="top:0.8px">1250.0</div>
<div class="t pl" style="top:33.3px">1225.0</div>
<div class="t pl" style="top:65.8px">1200.0</div>
<div class="t pl" style="top:98.2px">1175.0</div>
<div class="t pl" style="top:130.7px">1150.0</div>
<div class="t pl" style="top:163.2px">1125.0</div>
<div class="t pl" style="top:195.7px">1100.0</div>
<div class="t pl" style="top:228.1px">1075.0</div>
<div class="t pl" style="top:260.6px">1050.0</div>
<div class="t pl" style="top:358.1px">975.0</div>
<div class="t pl" style="top:390.5px">950.0</div>
<div class="t pl" style="top:423.0px">925.0</div>
<div class="t pl" style="top:455.5px">900.0</div>
<div class="t pl" style="top:488.0px">875.0</div>
<div class="t pl" style="top:520.5px">850.0</div>
<div class="t pl" style="top:552.9px">825.0</div>
<div class="t pl" style="top:585.4px">800.0</div>
<div class="t pl" style="top:617.9px">775.0</div>
<div class="t pl" style="top:650.4px">750.0</div>
<div class="t pl" style="top:682.8px">725.0</div>
<div class="t pl" style="top:715.3px">700.0</div>
<div class="t pl" style="top:747.8px">675.0</div>
<div class="tag" style="top:290px;background:#000">1025.8</div>
<div class="tag" style="top:323px;background:#801922">1000.0</div>
<div class="clip">
<div class="t tl yr" style="left:24.6px;top:14px">2008</div>
<div class="t tl" style="left:151px;top:14px">Mar</div>
<div class="t tl" style="left:281px;top:14px">May</div>
<div class="t tl" style="left:414.5px;top:14px">Jul</div>
<div class="t tl" style="left:550.8px;top:14px">Sep</div>
<div class="t tl" style="left:687px;top:14px">Nov</div>
<div class="t tl yr" style="left:814px;top:14px">2009</div>
<div class="t tl" style="left:934.7px;top:14px">Mar</div>
<div class="t tl" style="left:1067.5px;top:14px">May</div>
<div class="t tl" style="left:1198px;top:14px">Jul</div>
<div class="t tl" style="left:1330.6px;top:14px">Sep</div>
<div class="t tl" style="left:1464px;top:14px">Nov</div>
<div class="t tl yr" style="left:1580.7px;top:14px;transform:none">201</div>
</div>
<div class="btn"><svg width="28" height="28" viewBox="0 0 28 28" style="position:absolute;left:0;top:0"><g fill="none" stroke="#50535e" stroke-width="1.8" stroke-linecap="square" stroke-linejoin="miter"><path d="M9.6 10.6L12.7 14L9.6 17.4"/><path d="M13.2 7.9L19.3 14L13.2 20.1"/></g></svg></div>
</body></html>
